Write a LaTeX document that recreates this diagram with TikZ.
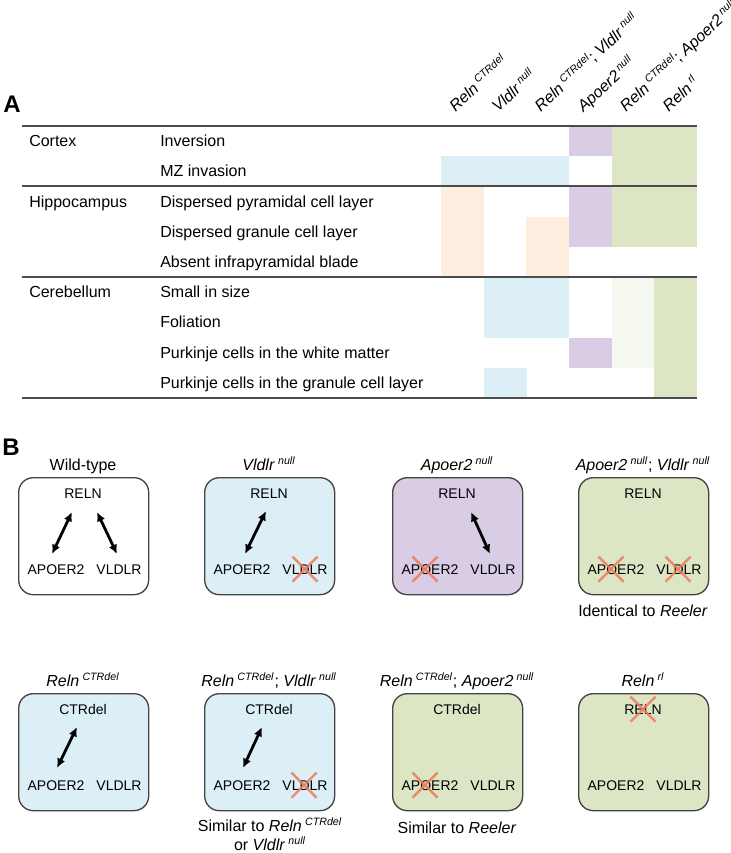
\documentclass[tikz,border=0pt]{standalone}
\usepackage{fontspec}
\setmainfont{Liberation Sans}
\usetikzlibrary{arrows.meta,positioning}

\definecolor{cellblue}{HTML}{DCEEF6}
\definecolor{cellpurple}{HTML}{D8CDE5}
\definecolor{cellgreen}{HTML}{DCE6C5}
\definecolor{cellpeach}{HTML}{FDEEE0}
\definecolor{cellpale}{HTML}{F4F8EE}
\definecolor{knockred}{HTML}{EE7A5A}
\definecolor{edgegray}{HTML}{444444}

\newcommand{\gene}[2]{\textit{#1}\kern0.2em\textsuperscript{\textit{#2}}}
\newcommand{\knockout}[2]{%
  \draw[knock] ([shift={(#2-12.5,-12.5)}]#1.center) -- ([shift={(#2+12.5,12.5)}]#1.center);
  \draw[knock] ([shift={(#2-12.5,12.5)}]#1.center) -- ([shift={(#2+12.5,-12.5)}]#1.center);}

\begin{document}
\begin{tikzpicture}[
    x=0.75pt, y=-0.75pt,
    rowlabel/.style={anchor=base west, inner sep=0, font=\fontsize{12}{14}\selectfont},
    colhead/.style={anchor=base west, inner sep=0, rotate=43, font=\fontsize{12}{14}\selectfont},
    rule/.style={draw=black!70, line width=1.5pt},
    panel/.style={anchor=base west, inner sep=0, font=\fontsize{18}{20}\selectfont\bfseries},
    box/.style={draw=edgegray, line width=1pt, rounded corners=11pt, anchor=north west,
      minimum width=97.5pt, minimum height=87.75pt, inner sep=0},
    gene/.style={anchor=base, inner sep=0, font=\fontsize{10.5}{12}\selectfont},
    title/.style={anchor=base, inner sep=0, align=center, font=\fontsize{12}{14.25}\selectfont},
    link/.style={{Latex[length=7pt,width=6.5pt]}-{Latex[length=7pt,width=6.5pt]}, line width=2.1pt},
    knock/.style={draw=knockred, line width=1.8pt, opacity=0.85}
  ]
    \useasboundingbox (0,0) rectangle (731,853);

    % panel A: phenotype table
    \node[panel] (pA) at (3,112) {A};
    \foreach \r/\c/\col in {1/4/cellpurple, 1/5/cellgreen, 1/6/cellgreen,
        2/1/cellblue, 2/2/cellblue, 2/3/cellblue, 2/5/cellgreen, 2/6/cellgreen,
        3/1/cellpeach, 3/4/cellpurple, 3/5/cellgreen, 3/6/cellgreen,
        4/1/cellpeach, 4/3/cellpeach, 4/4/cellpurple, 4/5/cellgreen, 4/6/cellgreen,
        5/1/cellpeach, 5/3/cellpeach,
        6/2/cellblue, 6/3/cellblue, 6/5/cellpale, 6/6/cellgreen,
        7/2/cellblue, 7/3/cellblue, 7/5/cellpale, 7/6/cellgreen,
        8/4/cellpurple, 8/5/cellpale, 8/6/cellgreen,
        9/2/cellblue, 9/6/cellgreen}
      \fill[\col] ({441+(\c-1)*42.67},{126+(\r-1)*30.22}) rectangle +(42.9,30.45);

    \foreach \c/\txt in {1/{\gene{Reln}{CTRdel}}, 2/{\gene{Vldlr}{null}},
        3/{\gene{Reln}{CTRdel}; \gene{Vldlr}{null}}, 4/{\gene{Apoer2}{null}},
        5/{\gene{Reln}{CTRdel}; \gene{Apoer2}{null}}, 6/{\gene{Reln}{rl}}}
      \node[colhead] (h\c) at ({441+(\c-0.5)*42.67-7},113) {\txt};

    \foreach \r/\txt in {1/Inversion, 2/MZ invasion, 3/Dispersed pyramidal cell layer,
        4/Dispersed granule cell layer, 5/Absent infrapyramidal blade, 6/Small in size,
        7/Foliation, 8/Purkinje cells in the white matter,
        9/Purkinje cells in the granule cell layer}
      \node[rowlabel] (l\r) at (160,{126+(\r-0.5)*30.22+5.5}) {\txt};

    \node[rowlabel] (g1) at (29,146.6) {Cortex};
    \node[rowlabel] (g2) at (29,207.1) {Hippocampus};
    \node[rowlabel] (g3) at (29,297.7) {Cerebellum};

    \foreach \y in {126,186.4,277.1,398}
      \draw[rule] (22,\y) -- (697,\y);

    % panel B: receptor schemes
    \node[panel] (pB) at (2,455) {B};
    \foreach \n/\x/\y/\fil/\top/\ttl in {
        1/18/477/white/RELN/{Wild-type},
        2/204/477/cellblue/RELN/{\gene{Vldlr}{null}},
        3/392/477/cellpurple/RELN/{\gene{Apoer2}{null}},
        4/578/477/cellgreen/RELN/{\gene{Apoer2}{null}; \gene{Vldlr}{null}},
        5/18/693/cellblue/CTRdel/{\gene{Reln}{CTRdel}},
        6/204/693/cellblue/CTRdel/{\gene{Reln}{CTRdel}; \gene{Vldlr}{null}},
        7/392/693/cellgreen/CTRdel/{\gene{Reln}{CTRdel}; \gene{Apoer2}{null}},
        8/578/693/cellgreen/RELN/{\gene{Reln}{rl}}}{
      \node[box, fill=\fil] (b\n) at (\x,\y) {};
      \node[title] (t\n) at ([shift={(65,-7)}]b\n.north west) {\ttl};
      \node[gene] (r\n) at ([shift={(65,21)}]b\n.north west) {\top};
      \node[gene] (a\n) at ([shift={(38,97)}]b\n.north west) {APOER2};
      \node[gene] (v\n) at ([shift={(101,97)}]b\n.north west) {VLDLR};
    }

    \node[title] (c4) at ([shift={(65,139)}]b4.north west) {Identical to \textit{Reeler}};
    \node[title] (c6) at ([shift={(66,157)}]b6.north west) {Similar to \gene{Reln}{CTRdel}\\or \gene{Vldlr}{null}};
    \node[title] (c7) at ([shift={(65,140)}]b7.north west) {Similar to \textit{Reeler}};

    % binding arrows
    \coordinate (e1) at ([shift={(54,35)}]b1.north west);
    \coordinate (f1) at ([shift={(34,77)}]b1.north west);
    \coordinate (e1v) at ([shift={(79,35)}]b1.north west);
    \coordinate (f1v) at ([shift={(99,77)}]b1.north west);
    \coordinate (e2) at ([shift={(62,34)}]b2.north west);
    \coordinate (f2) at ([shift={(41,77)}]b2.north west);
    \coordinate (e3) at ([shift={(79,35)}]b3.north west);
    \coordinate (f3) at ([shift={(98,77)}]b3.north west);
    \coordinate (e5) at ([shift={(59,34)}]b5.north west);
    \coordinate (f5) at ([shift={(39,75)}]b5.north west);
    \coordinate (e6) at ([shift={(58,34)}]b6.north west);
    \coordinate (f6) at ([shift={(39,75)}]b6.north west);

    \draw[link] (e1) -- (f1);
    \draw[link] (e1v) -- (f1v);
    \draw[link] (e2) -- (f2);
    \draw[link] (e3) -- (f3);
    \draw[link] (e5) -- (f5);
    \draw[link] (e6) -- (f6);

    % knocked-out partners
    \knockout{v2}{0}
    \knockout{a3}{-5}
    \knockout{a4}{-5}
    \knockout{v4}{-1}
    \knockout{v6}{-1}
    \knockout{a7}{-5}
    \knockout{r8}{0}
  \end{tikzpicture}
\end{document}
